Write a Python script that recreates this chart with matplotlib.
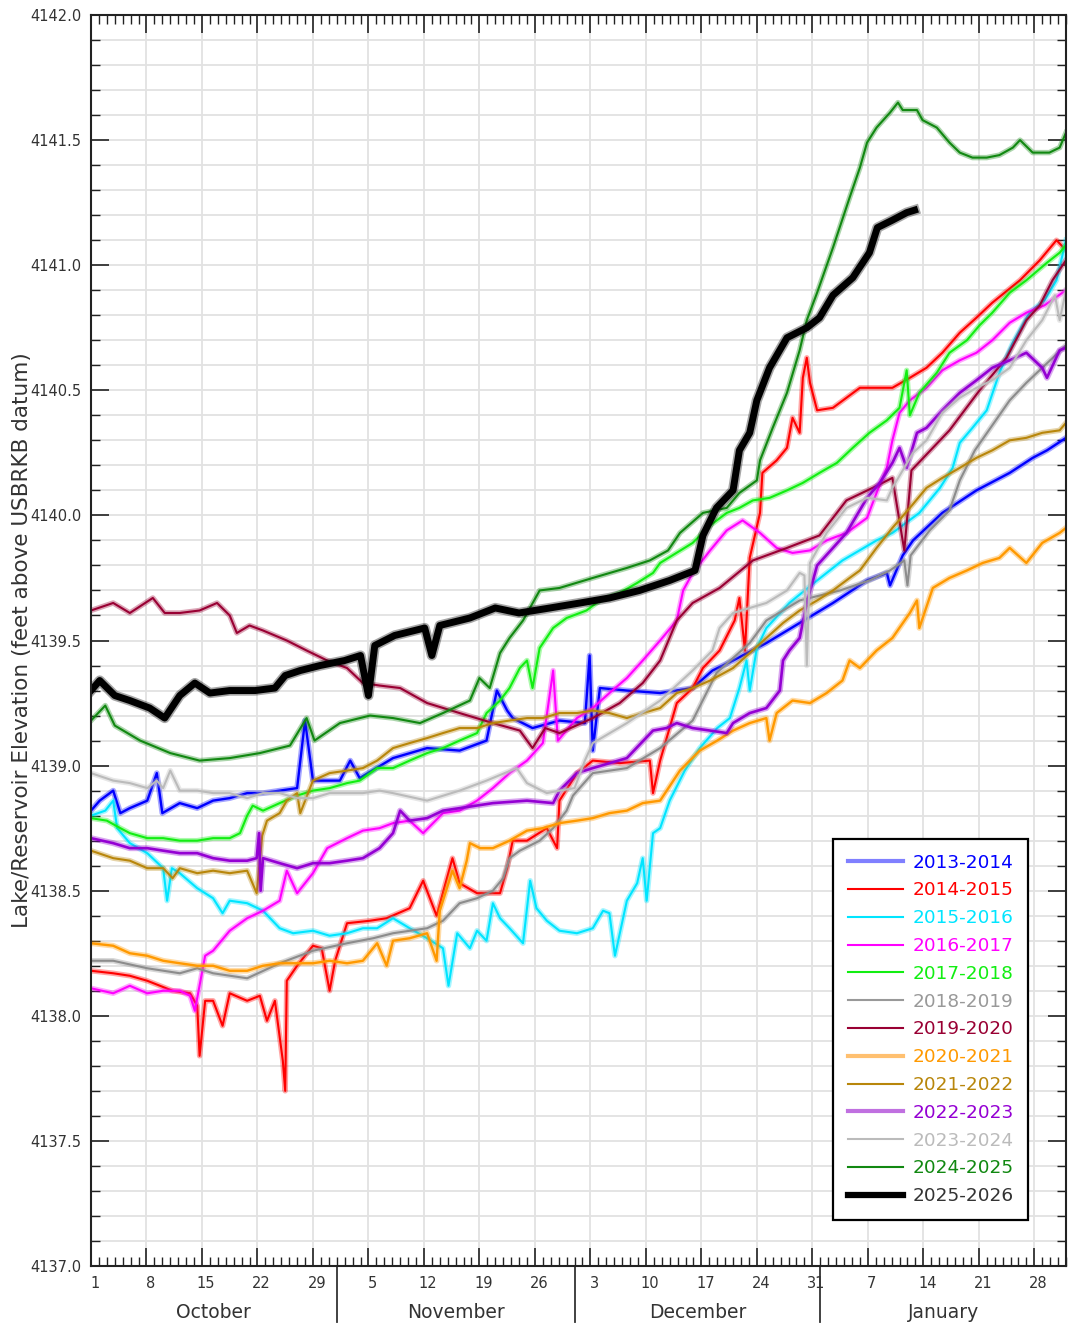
import matplotlib
matplotlib.use('Agg')
import matplotlib.pyplot as plt
from matplotlib.lines import Line2D
from matplotlib.ticker import MultipleLocator, FixedLocator, FormatStrFormatter
import matplotlib.transforms as mtransforms
import matplotlib.patheffects as pe

# ---------------- data: (day since Oct 1, elevation ft) ----------------
s2013 = [(0,4138.82),(1.1,4138.86),(2.8,4138.90),(3.7,4138.81),(4.9,4138.83),(7.1,4138.86),(8.3,4138.97),
         (9,4138.81),(11.2,4138.85),(13.4,4138.83),(15.4,4138.86),(17.5,4138.87),(19.7,4138.89),(21.7,4138.89),
         (23.8,4138.90),(26,4138.91),(27,4139.18),(28,4138.94),(31.4,4138.94),(32.7,4139.02),(33.9,4138.95),
         (38.1,4139.03),(42.4,4139.07),(46.5,4139.06),(49.9,4139.10),(51.2,4139.30),(52.5,4139.22),(53.2,4139.19),
         (55.7,4139.15),(59.1,4139.18),(62.3,4139.17),(62.9,4139.44),(63.3,4139.06),(64.2,4139.31),(67.6,4139.30),
         (71.8,4139.29),(75.9,4139.31),(78.4,4139.38),(81,4139.42),(85.2,4139.49),(89.4,4139.57),(93.6,4139.65),
         (97.9,4139.74),(100.4,4139.77),(100.8,4139.72),(102.4,4139.84),(103.7,4139.90),(107.4,4140.01),
         (111.7,4140.10),(115.9,4140.17),(118.8,4140.23),(120.6,4140.26),(123,4140.31)]
s2014 = [(0,4138.18),(2.8,4138.17),(4.9,4138.16),(7.1,4138.14),(10.3,4138.10),(12.5,4138.09),(13.4,4138.04),
         (13.7,4137.84),(14.4,4138.06),(15.4,4138.06),(16.6,4137.96),(17.5,4138.09),(19.7,4138.06),(21.3,4138.08),
         (22.2,4137.98),(23.2,4138.06),(24.2,4137.82),(24.5,4137.70),(24.7,4138.14),(26,4138.20),(28,4138.28),
         (29.1,4138.27),(30.1,4138.10),(30.8,4138.22),(32.3,4138.37),(35.2,4138.38),(37.3,4138.39),(40.2,4138.43),
         (41.9,4138.54),(43.6,4138.40),(45.6,4138.63),(46.5,4138.53),(48.7,4138.49),(51.6,4138.49),(52.5,4138.59),
         (53.2,4138.70),(55,4138.70),(57.5,4138.75),(58.8,4138.67),(59.1,4138.86),(61.3,4138.97),(63.3,4139.02),
         (66.7,4139.01),(70.5,4139.02),(70.9,4138.89),(71.8,4139.02),(73.9,4139.25),(75.9,4139.31),(77.2,4139.39),
         (79.3,4139.46),(81.2,4139.58),(81.8,4139.67),(82.5,4139.46),(83.1,4139.83),(84.4,4140.01),(84.7,4140.17),
         (86.5,4140.22),(87.8,4140.27),(88.5,4140.39),(89.4,4140.33),(89.8,4140.55),(90.3,4140.63),(90.7,4140.53),
         (91.6,4140.42),(93.6,4140.43),(95.3,4140.47),(97,4140.51),(99.1,4140.51),(101.1,4140.51),(103.3,4140.55),
         (105.4,4140.59),(107.4,4140.65),(109.6,4140.73),(111.7,4140.79),(113.7,4140.85),(117.2,4140.94),
         (119.7,4141.02),(121.8,4141.10),(123,4141.06)]
s2015 = [(0,4138.80),(1.8,4138.82),(2.8,4138.86),(3.3,4138.75),(4.9,4138.69),(7.1,4138.65),(9.1,4138.59),
         (9.6,4138.46),(10.2,4138.59),(11.2,4138.57),(13.4,4138.51),(15.4,4138.47),(16.6,4138.41),(17.5,4138.46),
         (19.7,4138.45),(21.7,4138.42),(23.8,4138.35),(25.5,4138.33),(28,4138.34),(30.1,4138.32),(32.3,4138.33),
         (34.3,4138.35),(36.1,4138.35),(38.1,4138.39),(40.2,4138.35),(42.4,4138.31),(44.4,4138.27),(45.1,4138.12),
         (46.2,4138.33),(47.8,4138.27),(48.7,4138.34),(49.9,4138.30),(50.7,4138.45),(51.6,4138.39),(52.8,4138.35),
         (54.5,4138.29),(55.4,4138.54),(56.2,4138.43),(57.5,4138.38),(59.1,4138.34),(61.3,4138.33),(63.3,4138.35),
         (64.6,4138.42),(65.4,4138.41),(66.1,4138.24),(67.6,4138.46),(68.9,4138.53),(69.6,4138.63),(70.1,4138.46),
         (70.9,4138.73),(71.8,4138.75),(73,4138.86),(74.9,4138.98),(76.8,4139.07),(79,4139.15),(80.6,4139.19),
         (81.8,4139.31),(82.7,4139.42),(83.1,4139.30),(84,4139.47),(85.2,4139.55),(88.1,4139.65),(91.6,4139.74),
         (94.8,4139.82),(99.1,4139.90),(101.1,4139.93),(104.5,4140.01),(107.1,4140.11),(108.7,4140.19),
         (109.6,4140.29),(111.2,4140.35),(113,4140.42),(114.6,4140.57),(116.3,4140.69),(118.4,4140.81),
         (120.3,4140.86),(121.8,4140.94),(123,4141.10)]
s2016 = [(0,4138.11),(2.8,4138.09),(4.9,4138.12),(7.1,4138.09),(9.1,4138.10),(11.2,4138.10),(12.5,4138.08),
         (13.1,4138.02),(14.4,4138.24),(15.4,4138.26),(17.5,4138.34),(19.7,4138.39),(21.7,4138.42),(23.8,4138.46),
         (24.7,4138.58),(26,4138.49),(28,4138.57),(29.8,4138.67),(32.3,4138.71),(34.3,4138.74),(36.4,4138.75),
         (38.1,4138.77),(40.2,4138.78),(41.9,4138.73),(44.4,4138.81),(46.5,4138.82),(48.7,4138.86),(50.7,4138.91),
         (52.8,4138.97),(55,4139.02),(57,4139.09),(58.3,4139.38),(58.9,4139.10),(61.3,4139.19),(63.3,4139.23),
         (65.4,4139.29),(67.6,4139.35),(69.6,4139.42),(71.8,4139.50),(73.9,4139.58),(74.7,4139.70),(75.9,4139.77),
         (78.1,4139.86),(80.2,4139.94),(82.2,4139.98),(84.4,4139.93),(86.5,4139.87),(88.5,4139.85),(90.7,4139.86),
         (92.8,4139.90),(95.3,4139.93),(97.9,4139.99),(99.1,4140.09),(100.4,4140.19),(101.1,4140.30),(102,4140.41),
         (103.3,4140.46),(105.4,4140.51),(107.4,4140.58),(109.6,4140.62),(111.7,4140.65),(113.7,4140.70),
         (115.9,4140.77),(118,4140.81),(120.3,4140.84),(123,4140.90)]
s2017 = [(0,4138.79),(2,4138.78),(3.7,4138.75),(4.9,4138.73),(7.1,4138.71),(9.1,4138.71),(11.2,4138.70),
         (13.4,4138.70),(15.4,4138.71),(17.5,4138.71),(18.8,4138.73),(19.7,4138.80),(20.4,4138.84),(21.7,4138.82),
         (23.8,4138.85),(26,4138.88),(28,4138.90),(30.1,4138.91),(32.3,4138.93),(33.9,4138.94),(36.1,4138.99),
         (38.1,4138.99),(40.2,4139.02),(42.4,4139.05),(44.4,4139.07),(46.5,4139.10),(48.7,4139.13),(49.9,4139.21),
         (51.6,4139.26),(52.8,4139.31),(54.1,4139.39),(55,4139.42),(55.7,4139.31),(56.6,4139.47),(58.3,4139.55),
         (60,4139.59),(62.5,4139.62),(64.2,4139.66),(66.7,4139.69),(68.9,4139.73),(70.9,4139.77),(71.8,4139.81),
         (75.9,4139.89),(78.1,4139.96),(80.2,4140.01),(81.8,4140.03),(83.5,4140.06),(85.6,4140.07),(87.8,4140.10),
         (89.8,4140.13),(91.9,4140.17),(94.1,4140.21),(96.1,4140.27),(98.2,4140.33),(100.4,4140.38),(102,4140.43),
         (102.9,4140.58),(103.3,4140.40),(104.5,4140.49),(106.7,4140.57),(108.3,4140.65),(110.5,4140.70),
         (112.1,4140.76),(113.7,4140.81),(115.9,4140.89),(118,4140.94),(120.6,4141.01),(122.2,4141.05),(123,4141.08)]
s2018 = [(0,4138.22),(2.8,4138.22),(7.1,4138.19),(11.2,4138.17),(13.4,4138.19),(15.4,4138.17),(19.7,4138.15),
         (23.8,4138.21),(28,4138.26),(32.3,4138.29),(35.6,4138.31),(38.1,4138.33),(42.4,4138.35),(44.4,4138.38),
         (46.5,4138.45),(48.7,4138.47),(50.7,4138.50),(52,4138.55),(52.8,4138.63),(54.1,4138.66),(56.6,4138.70),
         (58.3,4138.75),(60,4138.82),(60.8,4138.88),(63.3,4138.97),(67.6,4138.99),(71.8,4139.07),(75.9,4139.18),
         (78.9,4139.37),(81,4139.43),(83.1,4139.49),(85.2,4139.58),(89.4,4139.66),(94.5,4139.70),(98.2,4139.74),
         (100.8,4139.78),(102.6,4139.82),(103,4139.72),(103.4,4139.84),(105.8,4139.94),(108.3,4140.02),
         (109.6,4140.14),(111.5,4140.26),(113.7,4140.36),(115.9,4140.46),(118,4140.53),(120,4140.59),(123,4140.68)]
s2019 = [(0,4139.62),(2.8,4139.65),(4.9,4139.61),(7.8,4139.67),(9.3,4139.61),(11.2,4139.61),(13.7,4139.62),
         (15.9,4139.65),(17.5,4139.60),(18.4,4139.53),(20,4139.56),(21.7,4139.54),(24.7,4139.50),(27.2,4139.46),
         (29.8,4139.42),(32.3,4139.39),(34.3,4139.33),(36.4,4139.32),(39,4139.31),(42.4,4139.25),(46.5,4139.21),
         (50.7,4139.17),(54.1,4139.14),(55.7,4139.07),(57.3,4139.15),(59.1,4139.13),(63.3,4139.19),(66.7,4139.25),
         (69.6,4139.33),(71.8,4139.42),(73.9,4139.58),(75.9,4139.65),(79.3,4139.71),(83.5,4139.82),(87.8,4139.87),
         (91.9,4139.92),(95.3,4140.06),(98.6,4140.11),(101.1,4140.15),(102.6,4139.86),(103.5,4140.18),
         (108.3,4140.34),(112.1,4140.50),(115.5,4140.63),(118,4140.78),(119.7,4140.84),(121.3,4140.94),(123,4141.02)]
s2020 = [(0,4138.29),(2.8,4138.28),(4.9,4138.25),(7.1,4138.24),(9.1,4138.22),(11.2,4138.21),(13.4,4138.20),
         (15.4,4138.20),(17.5,4138.18),(19.7,4138.18),(21.7,4138.20),(23.8,4138.21),(26,4138.21),(28,4138.21),
         (30.1,4138.22),(32.3,4138.21),(34.3,4138.22),(36.1,4138.29),(37.3,4138.20),(38.1,4138.30),(40.2,4138.31),
         (42.4,4138.33),(43.6,4138.22),(44,4138.42),(45.6,4138.58),(46.5,4138.51),(47.4,4138.62),(47.8,4138.69),
         (49.1,4138.67),(50.7,4138.67),(52.8,4138.70),(55,4138.74),(57,4138.75),(59.1,4138.77),(61.3,4138.78),
         (63.3,4138.79),(65.4,4138.81),(67.6,4138.82),(69.6,4138.85),(71.8,4138.86),(74.3,4138.98),(76.8,4139.06),
         (79,4139.10),(81,4139.14),(83.1,4139.17),(85.2,4139.19),(85.6,4139.10),(86.5,4139.21),(88.5,4139.26),
         (90.7,4139.25),(92.8,4139.29),(94.8,4139.34),(95.7,4139.42),(97,4139.39),(99.1,4139.46),(101.1,4139.51),
         (103.3,4139.61),(104.2,4139.66),(104.5,4139.55),(106.2,4139.71),(108.3,4139.75),(110.5,4139.78),
         (112.5,4139.81),(114.6,4139.83),(115.9,4139.87),(118,4139.81),(120,4139.89),(122.2,4139.93),(123,4139.95)]
s2021 = [(0,4138.66),(2.8,4138.63),(4.9,4138.62),(7.1,4138.59),(9.1,4138.59),(10.3,4138.55),(11.2,4138.59),
         (13.4,4138.57),(15.4,4138.58),(17.5,4138.57),(19.7,4138.58),(20.9,4138.49),(21.6,4138.72),(22.2,4138.78),
         (23.8,4138.81),(24.7,4138.86),(26,4138.89),(26.4,4138.81),(28,4138.94),(30.1,4138.97),(32.3,4138.98),
         (34.3,4138.99),(36.1,4139.02),(38.1,4139.07),(40.2,4139.09),(42.4,4139.11),(44.4,4139.13),(46.5,4139.15),
         (48.7,4139.15),(50.7,4139.17),(52.8,4139.18),(55,4139.19),(57,4139.19),(59.1,4139.21),(61.3,4139.21),
         (63.3,4139.22),(65.4,4139.21),(67.6,4139.19),(69.6,4139.21),(71.8,4139.23),(73.9,4139.29),(75.9,4139.31),
         (78.1,4139.34),(81,4139.39),(83.1,4139.45),(85.2,4139.51),(87.3,4139.57),(89.4,4139.62),(91.6,4139.66),
         (93.6,4139.70),(95.7,4139.75),(97,4139.78),(99.1,4139.87),(101.1,4139.95),(103.3,4140.03),(105.4,4140.11),
         (107.4,4140.15),(109.6,4140.19),(111.7,4140.23),(113.7,4140.26),(115.9,4140.30),(118,4140.31),
         (120,4140.33),(122.2,4140.34),(123,4140.37)]
s2022 = [(0,4138.71),(2.8,4138.69),(4.9,4138.67),(7.1,4138.67),(9.1,4138.66),(11.2,4138.65),(13.4,4138.65),
         (15.4,4138.63),(17.5,4138.62),(19.7,4138.62),(20.9,4138.63),(21.2,4138.73),(21.4,4138.50),(21.7,4138.63),
         (23.8,4138.61),(26,4138.59),(28,4138.61),(30.1,4138.61),(32.3,4138.62),(34.3,4138.63),(36.4,4138.67),
         (38.1,4138.73),(39,4138.82),(40.2,4138.78),(42.4,4138.79),(44.4,4138.82),(46.5,4138.83),(50.7,4138.85),
         (55,4138.86),(58.3,4138.85),(59.1,4138.90),(61.3,4138.97),(63.3,4138.99),(67.6,4139.03),(70.9,4139.14),
         (72.6,4139.15),(73.9,4139.17),(75.9,4139.15),(78.1,4139.14),(80.2,4139.13),(81,4139.17),(83.1,4139.21),
         (85.2,4139.23),(86.9,4139.30),(87.3,4139.42),(88.1,4139.46),(89.4,4139.51),(90.3,4139.65),(91.6,4139.80),
         (93.6,4139.87),(95.3,4139.93),(97.9,4140.07),(99.5,4140.13),(101.1,4140.21),(102,4140.27),(102.9,4140.19),
         (104.2,4140.33),(105.4,4140.35),(107.4,4140.42),(109.6,4140.49),(111.7,4140.54),(113.7,4140.59),
         (115.9,4140.62),(118,4140.65),(120,4140.59),(120.6,4140.55),(122.2,4140.66),(123,4140.67)]
s2023 = [(0,4138.97),(2.8,4138.94),(4.9,4138.93),(7.1,4138.91),(8.3,4138.94),(9.1,4138.91),(10,4138.98),
         (11.2,4138.90),(13.4,4138.90),(15.4,4138.89),(17.5,4138.89),(19.7,4138.87),(21.7,4138.89),(23.8,4138.89),
         (26,4138.87),(28,4138.87),(30.1,4138.89),(32.3,4138.89),(34.3,4138.89),(36.4,4138.90),(38.1,4138.89),
         (42.4,4138.86),(46.5,4138.90),(49.9,4138.94),(53.7,4138.99),(55,4138.93),(57.5,4138.89),(59.1,4138.90),
         (61,4138.91),(62.3,4139.02),(63.3,4139.09),(67.6,4139.17),(71.8,4139.26),(75.9,4139.38),(78.4,4139.46),
         (79.3,4139.55),(81,4139.61),(83.1,4139.63),(85.2,4139.65),(87.8,4139.70),(89.4,4139.77),(90,4139.76),
         (90.3,4139.40),(90.7,4139.81),(92.8,4139.93),(95.3,4140.03),(97.9,4140.07),(100.4,4140.06),(101.1,4140.11),
         (103.7,4140.25),(105.4,4140.30),(107.4,4140.41),(109.6,4140.47),(111.7,4140.51),(113.7,4140.54),
         (115.9,4140.59),(118,4140.70),(120,4140.78),(121.6,4140.88),(122.2,4140.78),(123,4140.90)]
s2024 = [(0,4139.18),(1.8,4139.24),(3,4139.16),(6.2,4139.10),(10,4139.05),(13.7,4139.02),(17.5,4139.03),
         (21.3,4139.05),(25.1,4139.08),(27.2,4139.19),(28.2,4139.10),(31.4,4139.17),(35.2,4139.20),(38.1,4139.19),
         (41.5,4139.17),(44.4,4139.21),(47.8,4139.26),(49,4139.35),(50.3,4139.31),(51.6,4139.45),(52.8,4139.51),
         (54.5,4139.58),(56.6,4139.70),(59.1,4139.71),(63.3,4139.75),(67.6,4139.79),(70.5,4139.82),(72.8,4139.86),
         (74.3,4139.93),(77.2,4140.01),(80.2,4140.03),(81.8,4140.09),(84,4140.14),(84.4,4140.22),(86,4140.35),
         (87.8,4140.49),(89.4,4140.66),(90.3,4140.78),(91.6,4140.89),(93.6,4141.07),(95.7,4141.27),(97,4141.39),
         (97.9,4141.49),(99.1,4141.55),(100.8,4141.61),(101.8,4141.65),(102.4,4141.62),(104.2,4141.62),
         (104.9,4141.58),(106.7,4141.55),(108.3,4141.49),(109.6,4141.45),(111.2,4141.43),(113,4141.43),
         (114.6,4141.44),(116.3,4141.47),(117.2,4141.50),(118.8,4141.45),(120.9,4141.45),(122.2,4141.47),(123,4141.53)]
s2025 = [(0,4139.30),(1.1,4139.34),(3,4139.28),(4.9,4139.26),(7.4,4139.23),(9.3,4139.19),(11.2,4139.28),
         (13.1,4139.33),(15,4139.29),(17.5,4139.30),(20.7,4139.30),(23.2,4139.31),(24.5,4139.36),(26.4,4139.38),
         (28.9,4139.40),(32,4139.42),(34,4139.44),(35,4139.28),(35.8,4139.48),(38.3,4139.52),(42.1,4139.55),
         (43,4139.44),(44,4139.56),(47.8,4139.59),(51,4139.63),(54,4139.61),(57.9,4139.63),(61.7,4139.65),
         (65.4,4139.67),(69.2,4139.70),(73,4139.74),(76.2,4139.78),(77.2,4139.92),(78.9,4140.03),(81,4140.10),
         (81.8,4140.26),(83.1,4140.33),(84,4140.46),(85.6,4140.59),(87.8,4140.71),(90.3,4140.75),(91.9,4140.79),
         (93.6,4140.88),(96.1,4140.95),(98.2,4141.05),(99.2,4141.15),(101.1,4141.18),(102.9,4141.21),(103.9,4141.22)]

seasons = ['2013-2014','2014-2015','2015-2016','2016-2017','2017-2018','2018-2019','2019-2020',
           '2020-2021','2021-2022','2022-2023','2023-2024','2024-2025','2025-2026']
series = [s2013, s2014, s2015, s2016, s2017, s2018, s2019, s2020, s2021, s2022, s2023, s2024, s2025]
colors = ['#0000FF','#FF0000','#00E5FF','#FF00FF','#11EE11','#8C8C8C','#990033',
          '#FF9900','#B8860B','#9400D3','#BBBBBB','#118811','#000000']
widths = [1.7,1.5,1.5,1.5,1.5,1.5,1.5,1.7,1.5,1.9,1.5,1.5,5.0]
legend_colors = ['#8080FF','#FF0000','#00E5FF','#FF00FF','#11EE11','#999999','#990033',
                 '#FFC070','#B8860B','#C070E0','#BBBBBB','#118811','#000000']
legend_widths = [3,1.5,1.5,1.5,1.5,1.5,1.5,3,1.5,3,1.5,1.5,4.5]
text_colors = ['#0000FF','#FF0000','#00E5FF','#FF00FF','#11EE11','#999999','#990033',
               '#FF9900','#B8860B','#9400D3','#BBBBBB','#118811','#333333']

day_ticks = list(range(0, 120, 7))
day_labels = ['1','8','15','22','29','5','12','19','26','3','10','17','24','31','7','14','21','28']
months = ['October','November','December','January']
month_mid = [15.5, 46, 76.5, 107.5]
month_bounds = [31, 61, 92]

# ---------------- figure ----------------
W, H = 1068, 1326
fig = plt.figure(figsize=(W/100, H/100), dpi=100)
ax = fig.add_axes([91/W, 1-1266/H, 975/W, 1251/H])

for s, c, lw in zip(series, colors, widths):
    xs = [p[0] for p in s]
    ys = [p[1] for p in s]
    fuzz = [pe.Stroke(linewidth=lw + 2.4, foreground=c, alpha=0.35), pe.Normal()]
    ax.plot(xs, ys, color=c, lw=lw, solid_joinstyle='round', path_effects=fuzz)

ax.set_xlim(0, 123)
ax.set_ylim(4137.0, 4142.0)

ax.xaxis.set_major_locator(FixedLocator(day_ticks))
ax.xaxis.set_minor_locator(MultipleLocator(1))
ax.set_xticklabels(day_labels)
ax.yaxis.set_major_locator(MultipleLocator(0.5))
ax.yaxis.set_minor_locator(MultipleLocator(0.1))
ax.yaxis.set_major_formatter(FormatStrFormatter('%.1f'))

ax.grid(which='major', axis='x', color='#e2e2e2', lw=1.3)
ax.grid(which='both', axis='y', color='#e2e2e2', lw=1.3)
ax.set_axisbelow(True)

ax.tick_params(which='both', direction='in', top=True, right=True, colors='#222222')
ax.tick_params(which='major', length=13, width=1.2, labelsize=10.5, pad=7, labelcolor='#333333')
ax.tick_params(which='minor', length=6.5, width=1.0)
for sp in ax.spines.values():
    sp.set_linewidth(1.5)
    sp.set_color('#222222')

offset = mtransforms.ScaledTranslation(4/100, 0, fig.dpi_scale_trans)
for lab in ax.get_xticklabels():
    lab.set_transform(lab.get_transform() + offset)

trans = mtransforms.blended_transform_factory(ax.transData, ax.transAxes)
for m, xm in zip(months, month_mid):
    ax.text(xm, -47/1251, m, transform=trans, ha='center', va='center', fontsize=13.5, color='#333333')
for b in month_bounds:
    ax.plot([b, b], [0, -56/1251], transform=trans, color='#333333', lw=1.3, clip_on=False)

ax.set_ylabel('Lake/Reservoir Elevation (feet above USBRKB datum)', fontsize=15.5, color='#333333')
ax.yaxis.set_label_coords(-59/975, 0.5)

handles = [Line2D([], [], color=c, lw=lw) for c, lw in zip(legend_colors, legend_widths)]
leg = ax.legend(handles, seasons, loc='lower right', bbox_to_anchor=(0.9615, 0.0368),
                borderaxespad=0, fontsize=13.3, frameon=True, fancybox=False, edgecolor='black',
                framealpha=1, handlelength=3.0, handletextpad=0.5, labelspacing=0.53, borderpad=0.8)
leg.get_frame().set_linewidth(1.6)
for t, c in zip(leg.get_texts(), text_colors):
    t.set_color(c)

fig.savefig('out.png', dpi=100)
